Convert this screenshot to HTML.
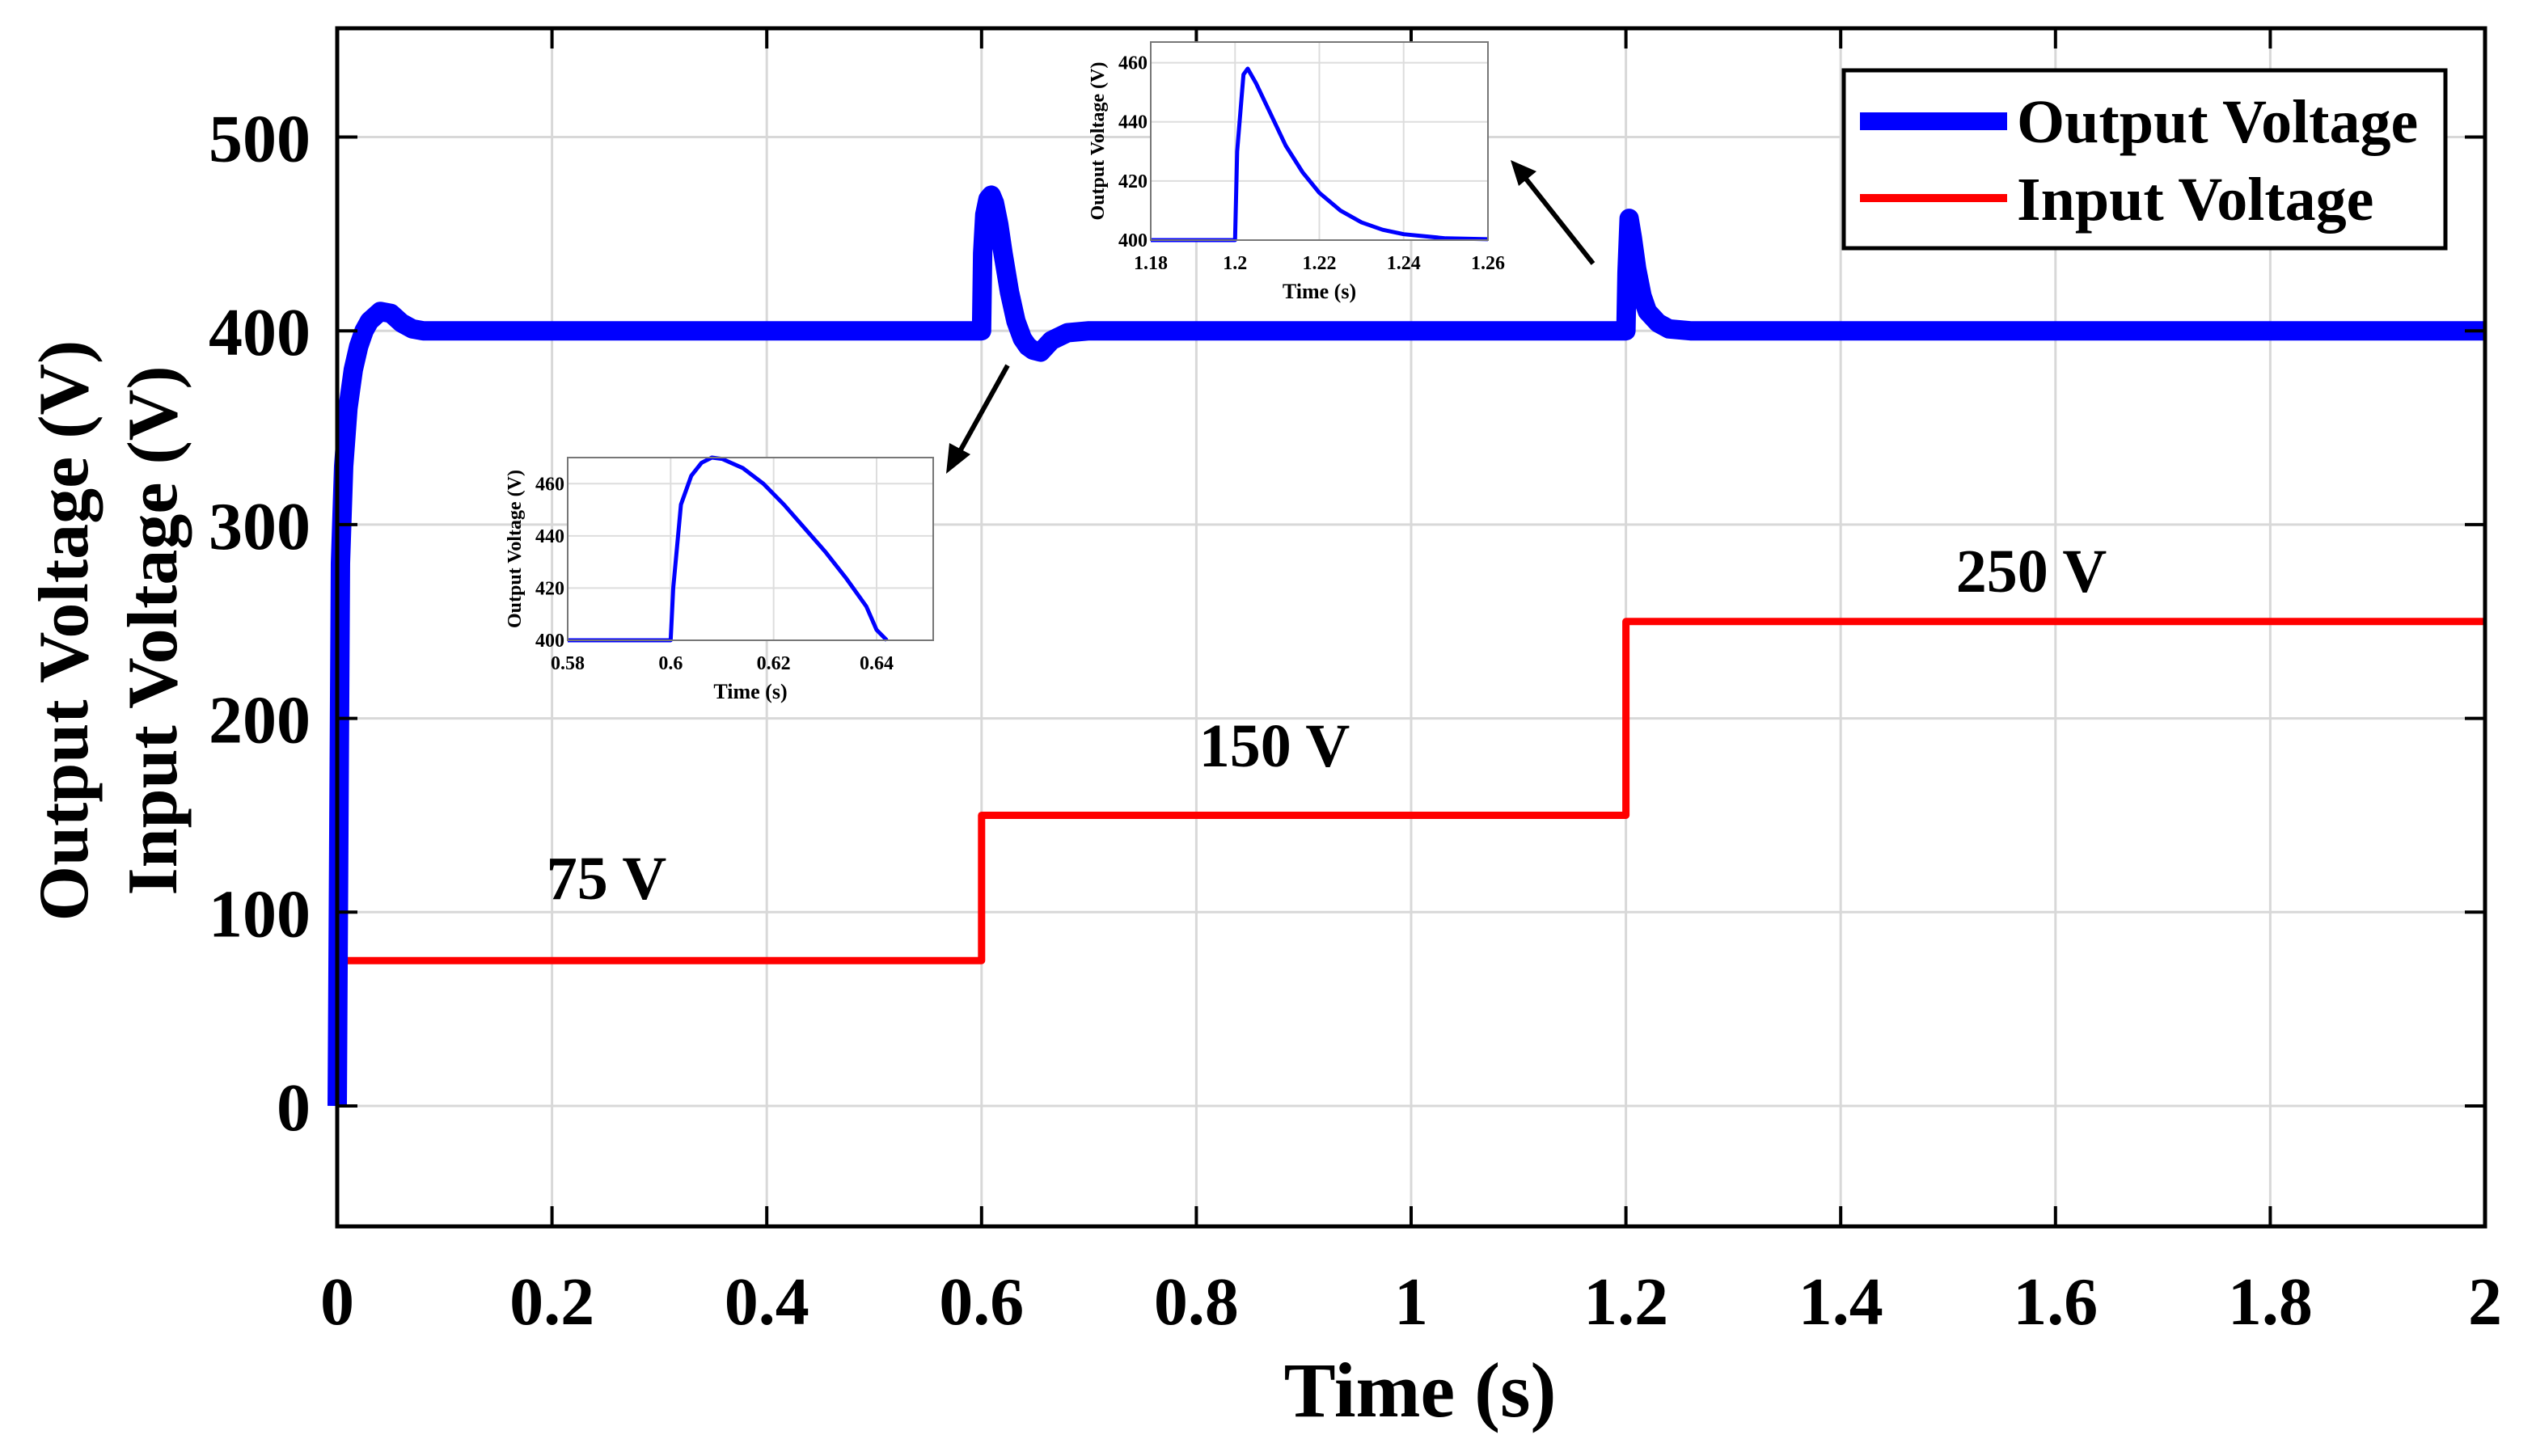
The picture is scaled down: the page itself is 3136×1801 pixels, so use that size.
<!DOCTYPE html>
<html><head><meta charset="utf-8"><style>
html,body{margin:0;padding:0;background:#fff}
svg{display:block}
text{font-family:"Liberation Serif",serif;font-weight:bold;fill:#000}
</style></head><body>
<svg id="chart" width="3136" height="1801" viewBox="0 0 3136 1801" xmlns="http://www.w3.org/2000/svg">
<g id="grid"></g>
<g id="series"></g>
<rect x="417" y="35" width="2656" height="1482" fill="none" stroke="#000" stroke-width="5"/>
<g id="ticks"></g>
<text x="1756" y="1752" font-size="96" text-anchor="middle">Time (s)</text>
<text transform="translate(108,780) rotate(-90)" font-size="88" text-anchor="middle">Output Voltage (V)</text>
<text transform="translate(218,780) rotate(-90)" font-size="88" text-anchor="middle">Input Voltage (V)</text>
<text x="750" y="1112" font-size="76" text-anchor="middle">75 V</text>
<text x="1576" y="948" font-size="76" text-anchor="middle">150 V</text>
<text x="2512" y="732" font-size="76" text-anchor="middle">250 V</text>
<g>
<line x1="1246" y1="452" x2="1186" y2="560" stroke="#000" stroke-width="6"/>
<polygon points="1170,586 1174,548 1200,562" fill="#000"/>
</g>
<g>
<line x1="1970" y1="326" x2="1886" y2="220" stroke="#000" stroke-width="6"/>
<polygon points="1868,198 1900,212 1878,230" fill="#000"/>
</g>
<g id="inset1"></g>
<g id="inset2"></g>
<g>
<rect x="2280" y="87" width="744" height="220" fill="#fff" stroke="#000" stroke-width="5"/>
<line x1="2300" y1="150" x2="2482" y2="150" stroke="#0000ff" stroke-width="22"/>
<text x="2494" y="176" font-size="76">Output Voltage</text>
<line x1="2300" y1="245" x2="2482" y2="245" stroke="#ff0000" stroke-width="10"/>
<text x="2494" y="272" font-size="76">Input Voltage</text>
</g>
</svg>
<script>
const xTicks=[0,0.2,0.4,0.6,0.8,1,1.2,1.4,1.6,1.8,2];
const xTickLabels=["0","0.2","0.4","0.6","0.8","1","1.2","1.4","1.6","1.8","2"];
const yTicks=[0,100,200,300,400,500];
const outT=[0,0.003,0.006,0.01,0.015,0.02,0.025,0.03,0.04,0.05,0.06,0.07,0.08,0.1,0.6,0.601,0.603,0.606,0.609,0.612,0.616,0.62,0.626,0.632,0.638,0.643,0.648,0.655,0.665,0.68,0.7,1.2,1.201,1.203,1.206,1.21,1.215,1.22,1.23,1.24,1.26,2];
const outV=[0,280,330,360,380,392,400,405,410,409,404,401,400,400,400,440,460,468,470,466,455,440,420,405,396,392,390,389,395,399,400,400,430,458,448,432,418,410,404,401,400,400];
const inT=[0,0.6,0.6,1.2,1.2,2];
const inV=[75,75,150,150,250,250];
const in1T=[0.58,0.6,0.6005,0.602,0.604,0.606,0.608,0.61,0.614,0.618,0.622,0.626,0.63,0.634,0.638,0.64,0.642];
const in1V=[400,400,420,452,463,468,470,469.5,466,460,452,443,434,424,413,404,400];
const in2T=[1.18,1.2,1.2005,1.202,1.203,1.205,1.208,1.212,1.216,1.22,1.225,1.23,1.235,1.24,1.25,1.26];
const in2V=[400,400,430,456,458,453,444,432,423,416,410,406,403.5,402,400.6,400.3];
const NS="http://www.w3.org/2000/svg";
const X0=417,X1=3073,Y0=1368,YPER=2.397;
const sx=t=>X0+(t/2)*(X1-X0);
const sy=v=>Y0-v*YPER;
function mk(tag,parent){const e=document.createElementNS(NS,tag);parent.appendChild(e);return e;}
const grid=document.getElementById('grid'),ticks=document.getElementById('ticks'),series=document.getElementById('series');
xTicks.forEach((t,i)=>{
 const g=mk('line',grid);
 
 
 g.setAttribute('x1',sx(t));g.setAttribute('x2',sx(t));g.setAttribute('y1',35);g.setAttribute('y2',1517);g.setAttribute('stroke','#d8d8d8');g.setAttribute('stroke-width',3);
 [[1517,1492],[35,60]].forEach(p=>{const k=mk('line',ticks);
 
 
 k.setAttribute('x1',sx(t));k.setAttribute('x2',sx(t));k.setAttribute('y1',p[0]);k.setAttribute('y2',p[1]);k.setAttribute('stroke','#000');k.setAttribute('stroke-width',4);});
 const l=mk('text',ticks);
 
 
 l.setAttribute('x',sx(t));l.setAttribute('y',1638);l.setAttribute('font-size',84);l.setAttribute('text-anchor','middle');l.textContent=xTickLabels[i];
});
yTicks.forEach(v=>{
 const g=mk('line',grid);
 
 
 g.setAttribute('x1',X0);g.setAttribute('x2',X1);g.setAttribute('y1',sy(v));g.setAttribute('y2',sy(v));g.setAttribute('stroke','#d8d8d8');g.setAttribute('stroke-width',3);
 [[X0,X0+25],[X1,X1-25]].forEach(p=>{const k=mk('line',ticks);
 
 
 k.setAttribute('x1',p[0]);k.setAttribute('x2',p[1]);k.setAttribute('y1',sy(v));k.setAttribute('y2',sy(v));k.setAttribute('stroke','#000');k.setAttribute('stroke-width',4);});
 const l=mk('text',ticks);
 
 
 l.setAttribute('x',384);l.setAttribute('y',sy(v)+30);l.setAttribute('font-size',84);l.setAttribute('text-anchor','end');l.textContent=String(v);
});
function poly(parent,T,V,fx,fy,color,w,name){
 const p=mk('polyline',parent);
 
 
 p.setAttribute('points',T.map((t,i)=>fx(t)+','+fy(V[i])).join(' '));
 p.setAttribute('fill','none');p.setAttribute('stroke',color);p.setAttribute('stroke-width',w);p.setAttribute('stroke-linejoin','round');
}
poly(series,inT,inV,sx,sy,'#ff0000',9,'input-voltage-line');
poly(series,outT,outV,sx,sy,'#0000ff',24,'output-voltage-line');
function inset(id,box,xr,yr,xt,yt,T,V,name){
 const g=document.getElementById(id);
 const [L,Tp,R,B]=box;
 const fx=t=>L+(t-xr[0])/(xr[1]-xr[0])*(R-L);
 const fy=v=>B-(v-yr[0])/(yr[1]-yr[0])*(B-Tp);
 const bg=mk('rect',g);
 
 
 bg.setAttribute('x',L);bg.setAttribute('y',Tp);bg.setAttribute('width',R-L);bg.setAttribute('height',B-Tp);bg.setAttribute('fill','#fff');
 xt.forEach(t=>{const l=mk('line',g);
 
 
 l.setAttribute('x1',fx(t));l.setAttribute('x2',fx(t));l.setAttribute('y1',Tp);l.setAttribute('y2',B);l.setAttribute('stroke','#ddd');l.setAttribute('stroke-width',2);
 const s=mk('text',g);
 
 
 s.setAttribute('x',fx(t));s.setAttribute('y',B+36);s.setAttribute('font-size',24);s.setAttribute('text-anchor','middle');s.textContent=String(t);});
 yt.forEach(v=>{const l=mk('line',g);
 
 
 l.setAttribute('x1',L);l.setAttribute('x2',R);l.setAttribute('y1',fy(v));l.setAttribute('y2',fy(v));l.setAttribute('stroke','#ddd');l.setAttribute('stroke-width',2);
 const s=mk('text',g);
 
 
 s.setAttribute('x',L-4);s.setAttribute('y',fy(v)+8);s.setAttribute('font-size',24);s.setAttribute('text-anchor','end');s.textContent=String(v);});
 poly(g,T,V,fx,fy,'#0000ff',5,name+'-line');
 const fr=mk('rect',g);
 
 
 fr.setAttribute('x',L);fr.setAttribute('y',Tp);fr.setAttribute('width',R-L);fr.setAttribute('height',B-Tp);fr.setAttribute('fill','none');fr.setAttribute('stroke','#777');fr.setAttribute('stroke-width',2);
 const xl=mk('text',g);
 
 
 xl.setAttribute('x',(L+R)/2);xl.setAttribute('y',B+72);xl.setAttribute('font-size',26);xl.setAttribute('text-anchor','middle');xl.textContent='Time (s)';
 const yl=mk('text',g);
 
 
 yl.setAttribute('transform','translate('+(L-58)+','+((Tp+B)/2)+') rotate(-90)');yl.setAttribute('font-size',24);yl.setAttribute('text-anchor','middle');yl.textContent='Output Voltage (V)';
}
inset('inset1',[702,566,1154,792],[0.58,0.651],[400,470],[0.58,0.6,0.62,0.64],[400,420,440,460],in1T,in1V,'inset-0.6s');
inset('inset2',[1423,52,1840,297],[1.18,1.26],[400,467],[1.18,1.2,1.22,1.24,1.26],[400,420,440,460],in2T,in2V,'inset-1.2s');
</script>
</body></html>
